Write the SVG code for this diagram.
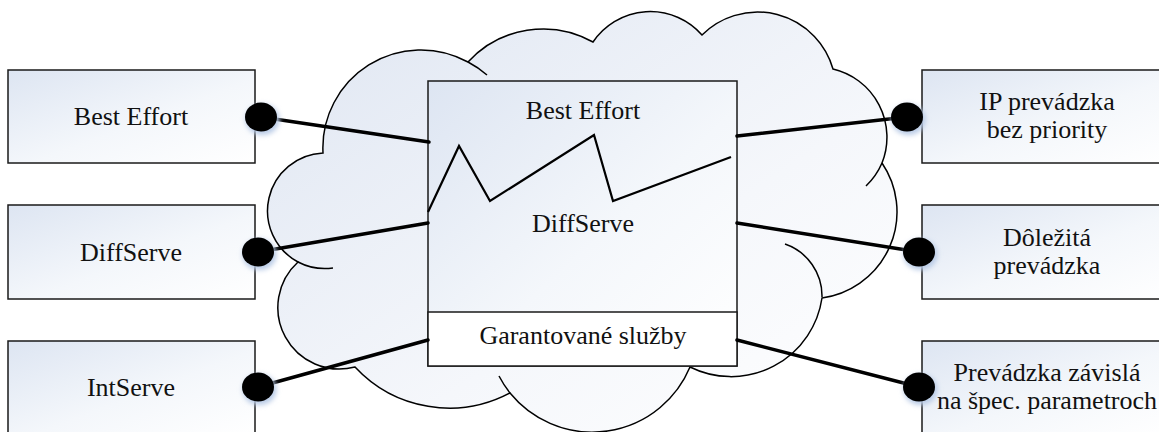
<svg xmlns="http://www.w3.org/2000/svg" width="1159" height="432" viewBox="0 0 1159 432">
  <defs>
    <linearGradient id="fillBlue" x1="0" y1="0" x2="1" y2="1">
      <stop offset="0" stop-color="#dde5f2"/>
      <stop offset="0.55" stop-color="#f4f7fb"/>
      <stop offset="1" stop-color="#ffffff"/>
    </linearGradient>
    <linearGradient id="cloudFill" x1="0" y1="0" x2="1" y2="1">
      <stop offset="0" stop-color="#dfe6f2"/>
      <stop offset="0.6" stop-color="#f5f7fb"/>
      <stop offset="1" stop-color="#ffffff"/>
    </linearGradient>
    <filter id="glow" x="-50%" y="-50%" width="200%" height="200%">
      <feGaussianBlur stdDeviation="2.5"/>
    </filter>
    <g id="dot">
      <ellipse cx="1.5" cy="2.5" rx="17" ry="15.5" fill="#b9cbe6" filter="url(#glow)"/>
      <ellipse cx="0" cy="0" rx="16" ry="14.5" fill="#000"/>
    </g>
  </defs>
  <style>
    .box { fill: url(#fillBlue); stroke: #1a1a1a; stroke-width: 1.5; }
    .cloud { fill: url(#cloudFill); stroke: #000; stroke-width: 1.5; stroke-linejoin: miter; }
    .arc { fill: none; stroke: #000; stroke-width: 1.5; }
    .link { stroke: #000; stroke-width: 3.5; stroke-linecap: round; fill: none; }
    .zig { stroke: #000; stroke-width: 2.2; fill: none; stroke-linejoin: miter; }
    .lbl { font-family: "Liberation Serif", "Times New Roman", serif; font-size: 26px; fill: #111; text-anchor: middle; }
  </style>

  <!-- network cloud: each lobe is a circular arc between two notches -->
  <g id="cloud">
    <path class="cloud" d="M 323 153
      A 98 98 0 0 1 468 62
      A 102 102 0 0 1 593 42
      A 69 69 0 0 1 702 35
      A 78.5 78.5 0 0 1 833 69
      A 70 70 0 0 1 882 163
      A 87 87 0 0 1 822 298
      A 92 92 0 0 1 690 367
      A 106 106 0 0 1 510 393
      A 129 129 0 0 1 355 367
      A 61.5 61.5 0 0 1 298 262
      A 58 58 0 0 1 323 153 Z"/>
    <path class="arc" d="M 468 62 A 98 98 0 0 1 487 75"/>
    <path class="arc" d="M 882 163 A 70 70 0 0 1 866 186"/>
    <path class="arc" d="M 785 244 A 55 55 0 0 1 822 297"/>
    <path class="arc" d="M 510 393 A 106 106 0 0 1 499 376"/>
    <path class="arc" d="M 298 262 A 58 58 0 0 0 333 268"/>
  </g>

  <!-- QoS model block -->
  <g id="qos-block">
    <rect class="box" x="428" y="81" width="309" height="285"/>
    <rect x="428" y="312" width="309" height="54" fill="#fff" stroke="#1a1a1a" stroke-width="1.5"/>
    <polyline class="zig" points="428,212 459,146 490,201 594,135 613,201 731,157"/>
    <text class="lbl" x="583" y="119">Best Effort</text>
    <text class="lbl" x="583" y="232">DiffServe</text>
    <text class="lbl" x="583" y="344">Garantované služby</text>
  </g>

  <!-- connectors -->
  <g id="connectors">
    <line class="link" x1="261" y1="117" x2="429" y2="142"/>
    <line class="link" x1="258" y1="252" x2="428" y2="223"/>
    <line class="link" x1="258" y1="387" x2="428" y2="340"/>
    <line class="link" x1="737" y1="136" x2="907" y2="117"/>
    <line class="link" x1="737" y1="223" x2="919" y2="252"/>
    <line class="link" x1="737" y1="340" x2="919" y2="387"/>
  </g>

  <!-- left nodes -->
  <g id="node-best-effort">
    <rect class="box" x="8" y="70" width="247" height="93"/>
    <text class="lbl" x="131" y="125">Best Effort</text>
    <use href="#dot" x="261" y="117"/>
  </g>
  <g id="node-diffserve">
    <rect class="box" x="8" y="205" width="247" height="94"/>
    <text class="lbl" x="131" y="261">DiffServe</text>
    <use href="#dot" x="258" y="252"/>
  </g>
  <g id="node-intserve">
    <rect class="box" x="8" y="341" width="247" height="94"/>
    <text class="lbl" x="131" y="396">IntServe</text>
    <use href="#dot" x="258" y="387"/>
  </g>

  <!-- right nodes -->
  <g id="node-ip">
    <rect class="box" x="922" y="70" width="247" height="93"/>
    <text class="lbl" x="1047" y="110">IP prevádzka</text>
    <text class="lbl" x="1047" y="138">bez priority</text>
    <use href="#dot" x="907" y="117"/>
  </g>
  <g id="node-important">
    <rect class="box" x="922" y="205" width="247" height="94"/>
    <text class="lbl" x="1047" y="246">Dôležitá</text>
    <text class="lbl" x="1047" y="274">prevádzka</text>
    <use href="#dot" x="919" y="252"/>
  </g>
  <g id="node-param">
    <rect class="box" x="922" y="341" width="247" height="94"/>
    <text class="lbl" x="1047" y="381">Prevádzka závislá</text>
    <text class="lbl" x="1047" y="409">na špec. parametroch</text>
    <use href="#dot" x="919" y="387"/>
  </g>
</svg>
